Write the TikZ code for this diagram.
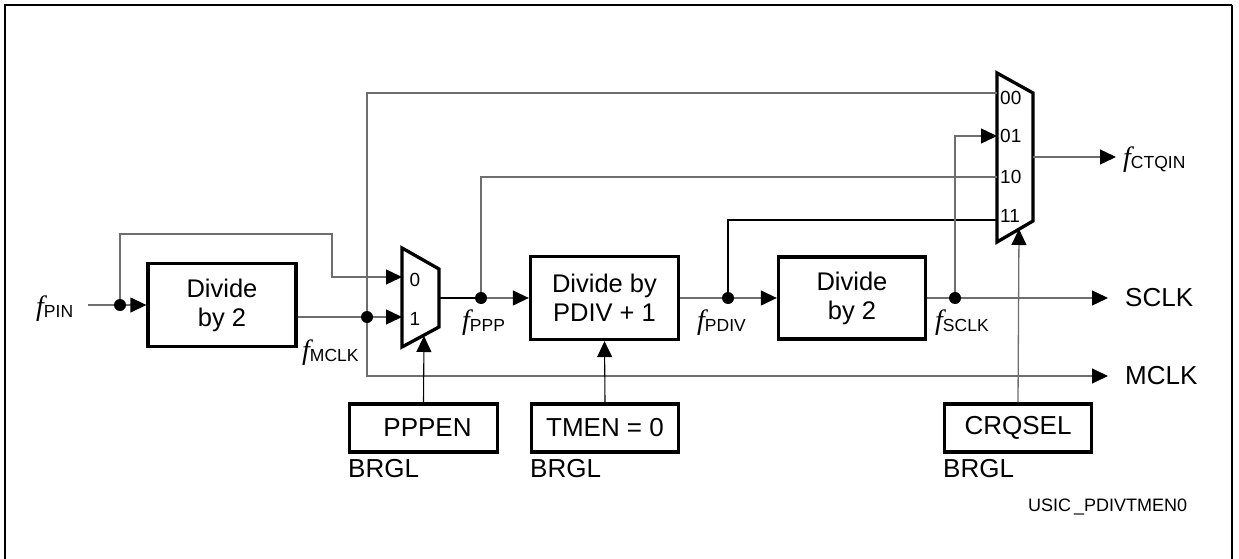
\documentclass[tikz,border=0pt]{standalone}
\usepackage{fontspec}
\setmainfont{Liberation Sans}
\newfontfamily\serifface{Liberation Serif}
\usetikzlibrary{arrows.meta}
\definecolor{wiregray}{HTML}{6E6E6E}
\newcommand{\fsig}[1]{{\fontsize{28}{28}\serifface\itshape f}\raisebox{-2pt}{\fontsize{17.5}{17.5}\selectfont #1}}
\begin{document}
\begin{tikzpicture}[x=1pt,y=-1pt,
  blk/.style={draw, line width=3.3pt, align=center, inner sep=0pt,
    font=\fontsize{25.5}{29}\selectfont},
  regbox/.style={blk, minimum height=48pt, font=\fontsize{26}{26}\selectfont},
  wire/.style={draw=wiregray, line width=1.3pt},
  bwire/.style={draw=black, line width=1.1pt},
  arr/.style={-{Triangle[length=16pt,width=15pt,color=black]}},
  jdot/.style={circle, fill=black, inner sep=0pt, minimum size=12pt},
  muxlbl/.style={inner sep=0pt, font=\fontsize{19}{19}\selectfont},
  siglbl/.style={inner sep=0pt, anchor=base west},
  biglbl/.style={inner sep=0pt, font=\fontsize{26}{26}\selectfont},
  muxshape/.style={draw, line width=3.3pt, line join=miter}
]
\useasboundingbox (0,0) rectangle (1239,559);
% frame
\draw[line width=2.5pt] (5,570) -- (5,5) -- (1232,5);
\draw[line width=1.3pt] (1232,5) -- (1232,570);

% boxes
\node[blk, minimum width=148pt, minimum height=83pt] (div1) at (222,305) {Divide\\by 2};
\node[blk, minimum width=148pt, minimum height=83pt] (div2) at (604.5,298) {Divide by\\PDIV + 1};
\node[blk, minimum width=147pt, minimum height=82pt] (div3) at (852,298) {Divide\\by 2};
\node[regbox, minimum width=148pt] (pppen) at (423.5,428) {\hspace*{8pt}PPPEN};
\node[regbox, minimum width=147pt] (tmen) at (605,428) {TMEN = 0};
\node[regbox, minimum width=147pt] (crq) at (1018,428) {CRQSEL};
\node[biglbl, anchor=north west] (b1) at (348,459) {BRGL};
\node[biglbl, anchor=north west] (b2) at (530,459) {BRGL};
\node[biglbl, anchor=north west] (b3) at (943,459) {BRGL};
\node[inner sep=0pt, anchor=west, font=\fontsize{18}{18}\selectfont] (fig) at (1028,507) {USIC\,\_PDIVTMEN0};

% mux 1
\coordinate (m1tl) at (402,248); \coordinate (m1tr) at (439,269);
\coordinate (m1br) at (439,327); \coordinate (m1bl) at (402,347);
\draw[muxshape] (m1tl) -- (m1tr) -- (m1br) -- (m1bl) -- cycle;
\coordinate (m1in0) at (402,277); \coordinate (m1in1) at (402,317);
\coordinate (m1out) at (439,298); \coordinate (m1sel) at (424,336);
\node[muxlbl] (l0) at (415,280) {0};
\node[muxlbl] (l1) at (415,319) {1};

% mux 2
\coordinate (m2tl) at (997,73); \coordinate (m2tr) at (1033,93);
\coordinate (m2br) at (1033,221); \coordinate (m2bl) at (997,242);
\draw[muxshape] (m2tl) -- (m2tr) -- (m2br) -- (m2bl) -- cycle;
\coordinate (m2in00) at (997,93); \coordinate (m2in01) at (997,136);
\coordinate (m2in10) at (997,177); \coordinate (m2in11) at (997,220);
\coordinate (m2out) at (1033,157); \coordinate (m2sel) at (1019,229);
\node[muxlbl, anchor=west] (l00) at (1000,98) {00};
\node[muxlbl, anchor=west] (l01) at (1000,136) {01};
\node[muxlbl, anchor=west] (l10) at (1000,177) {10};
\node[muxlbl, anchor=west] (l11) at (1000,216) {11};

% junctions and ends
\coordinate (pin) at (88,305);
\node[jdot] (j1) at (120,305) {};
\node[jdot] (jm) at (367,317) {};
\node[jdot] (jp) at (481,298) {};
\node[jdot] (jd) at (728,298) {};
\node[jdot] (js) at (955,298) {};
\coordinate (sclkend) at (1108,298);
\coordinate (mclkend) at (1108,376);
\coordinate (ctqend) at (1116,157);

% signal labels
\node[siglbl] (fpin) at (36,315) {\fsig{PIN}};
\node[siglbl] (fmclk) at (302,359) {\fsig{MCLK}};
\node[siglbl] (fppp) at (462,329) {\fsig{PPP}};
\node[siglbl] (fpdiv) at (697,329) {\fsig{PDIV}};
\node[siglbl] (fsclk) at (935,329) {\fsig{SCLK}};
\node[siglbl] (fctq) at (1123,166) {\fsig{CTQIN}};
\node[biglbl, anchor=west] (sclk) at (1125,298) {SCLK};
\node[biglbl, anchor=west] (mclk) at (1125,376) {MCLK};

% connectors
\draw[wire] (pin) -- (j1);
\draw[wire, arr] (j1) -- (div1.west);
\draw[wire, arr] (j1) -- (120,234) -- (332,234) -- (332,277) -- (m1in0);
\draw[wire] (div1.east |- jm) -- (jm);
\draw[wire, arr] (jm) -- (m1in1);
\draw[wire] (m2in00) -- (367,93) -- (jm);
\draw[wire, arr] (jm) -- (367,376) -- (mclkend);
\draw[bwire] (m1out) -- (jp);
\draw[wire, arr] (jp) -- (div2.west);
\draw[wire] (jp) |- (m2in10);
\draw[wire] (div2.east) -- (jd);
\draw[wire, arr] (jd) -- (div3.west);
\draw[bwire] (jd) |- (m2in11);
\draw[wire] (div3.east) -- (js);
\draw[wire, arr] (js) -- (sclkend);
\draw[wire, arr] (js) |- (m2in01);
\draw[wire, arr] (m2out) -- (ctqend);
\draw[bwire, arr] (pppen.north) -- (m1sel);
\draw[bwire, arr] (tmen.north) -- (div2.south);
\draw[wire, arr] (crq.north) -- (m2sel);
\end{tikzpicture}
\end{document}
